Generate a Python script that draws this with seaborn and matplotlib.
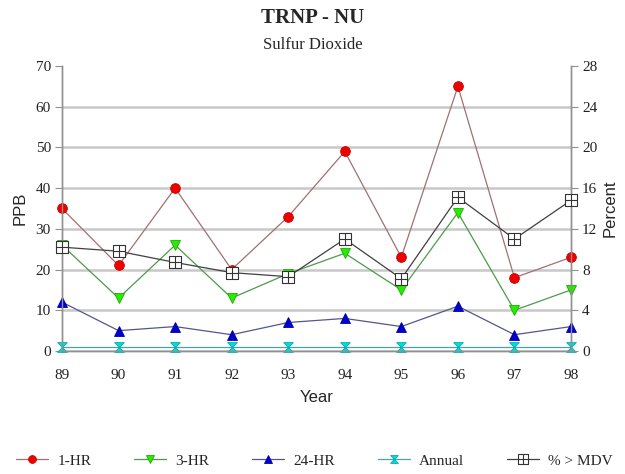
import seaborn as sns
import matplotlib.pyplot as plt
import pandas as pd
from matplotlib.path import Path

years = [89, 90, 91, 92, 93, 94, 95, 96, 97, 98]
hr1 = [35, 21, 40, 20, 33, 49, 23, 65, 18, 23]
hr3 = [26, 13, 26, 13, 19, 24, 15, 34, 10, 15]
hr24 = [12, 5, 6, 4, 7, 8, 6, 11, 4, 6]
annual = [1, 1, 1, 1, 1, 1, 1, 1, 1, 1]
pct_mdv = [10.2, 9.8, 8.7, 7.7, 7.3, 11.0, 7.1, 15.1, 11.0, 14.8]

df = pd.DataFrame({"Year": years, "1-HR": hr1, "3-HR": hr3, "24-HR": hr24,
                   "Annual": annual, "% > MDV": pct_mdv})

sns.set_theme(style="white")
plt.rcParams["font.family"] = ["Liberation Serif", "DejaVu Serif"]

# custom markers: hourglass and square with a cross
hourglass = Path([(-1, 1), (1, 1), (-1, -1), (1, -1), (-1, 1)],
                 [Path.MOVETO, Path.LINETO, Path.LINETO, Path.LINETO, Path.CLOSEPOLY])
sqplus = Path([(-1, -1), (1, -1), (1, 1), (-1, 1), (-1, -1),
               (0, -1), (0, 1), (-1, 0), (1, 0)],
              [Path.MOVETO, Path.LINETO, Path.LINETO, Path.LINETO, Path.CLOSEPOLY,
               Path.MOVETO, Path.LINETO, Path.MOVETO, Path.LINETO])

fig = plt.figure(figsize=(6.25, 4.74), dpi=100)
ax = fig.add_axes([0.0992, 0.2595, 0.8144, 0.6013])
ax2 = ax.twinx()

styles = [
    ("1-HR", ax, "#a07070", "o", "#ee0000", "#cc0000", 7),
    ("3-HR", ax, "#4c9a4c", "v", "#22ee00", "#22aa00", 7.5),
    ("24-HR", ax, "#55558f", "^", "#0000cc", "#0000aa", 7.5),
    ("Annual", ax, "#4aa5a5", hourglass, "#00dddd", "#00aaaa", 7),
]
handles = []
for name, a, lc, mk, fc, ec, ms in styles:
    sns.lineplot(data=df, x="Year", y=name, ax=a, color=lc, lw=0.9,
                 marker=mk, markersize=ms, markerfacecolor=fc,
                 markeredgecolor=ec, markeredgewidth=0.6, label=name, legend=False)
    handles.append(a.lines[-1])

sns.lineplot(data=df, x="Year", y="% > MDV", ax=ax2, color="#404040", lw=0.9,
             marker=sqplus, markersize=8.5, markerfacecolor="white",
             markeredgecolor="#333333", markeredgewidth=0.8, label="% > MDV", legend=False)
handles.append(ax2.lines[-1])

for ln in ax.lines + ax2.lines:
    ln.set_clip_on(False)
    ln.set_zorder(3)

ax.set_xlim(89, 98)
ax.set_ylim(0, 70)
ax2.set_ylim(0, 28)
ax.set_xticks(years)
ax.set_yticks(range(0, 71, 10))
ax2.set_yticks(range(0, 29, 4))
ax.yaxis.grid(True, color="#c8c8c8", lw=1.8)
ax.set_axisbelow(True)
ax.yaxis.get_gridlines()[-1].set_visible(False)

for a in (ax, ax2):
    a.spines["top"].set_visible(False)
    for s in ("left", "right", "bottom"):
        a.spines[s].set_color("#909090")
        a.spines[s].set_linewidth(1.0)
    a.tick_params(axis="both", labelsize=11, colors="#222222", length=5,
                  width=0.8, direction="out", pad=3)
    a.tick_params(axis="both", color="#909090")
ax.tick_params(axis="x", pad=8)

ax.set_xlabel("Year", family="Liberation Sans", fontsize=12, labelpad=6)
ax.set_ylabel("PPB", family="Liberation Sans", fontsize=12, labelpad=6)
ax2.set_ylabel("Percent", family="Liberation Sans", fontsize=12, labelpad=4)

fig.text(0.5, 0.963, "TRNP - NU", ha="center", va="center", fontsize=15, fontweight="bold")
fig.text(0.5, 0.905, "Sulfur Dioxide", ha="center", va="center", fontsize=12)

fig.legend(handles=handles, labels=[h.get_label() for h in handles],
           loc="center", bbox_to_anchor=(0.503, 0.028), ncol=5, frameon=False,
           fontsize=11, handlelength=2.1, columnspacing=2.8, handletextpad=0.6,
           markerscale=0.8)

plt.savefig("out.png", dpi=100)
